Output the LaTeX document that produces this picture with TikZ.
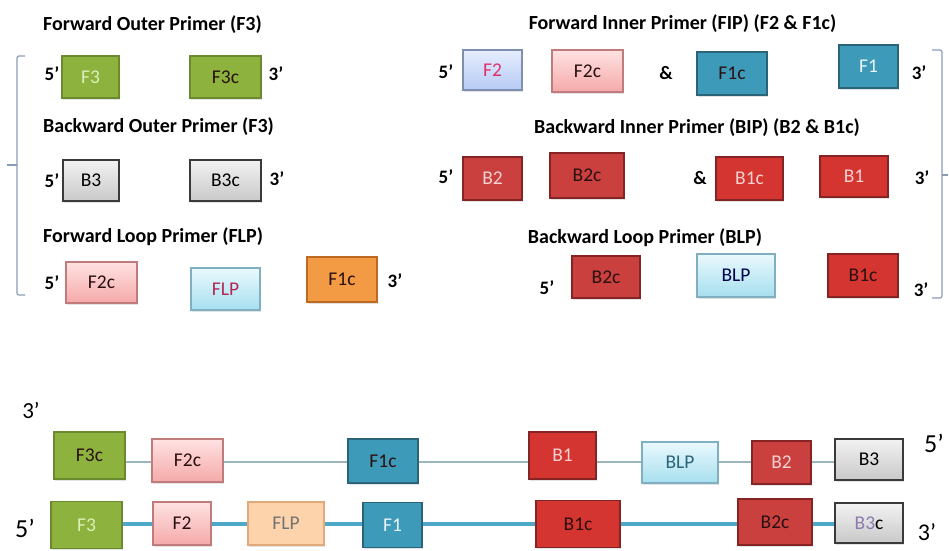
\documentclass[tikz,border=0pt]{standalone}
\usepackage{fontspec}
\setmainfont{Carlito}
\usetikzlibrary{shadows}
\definecolor{cgreen}{HTML}{8DB33E}
\definecolor{cgreenb}{HTML}{6B8A2F}
\definecolor{cgreent}{HTML}{DCEFB8}
\definecolor{cgrayt}{HTML}{F2F2F2}
\definecolor{cgrayb}{HTML}{C9C9C9}
\definecolor{cgrayd}{HTML}{3A3A3A}
\definecolor{cpinkt}{HTML}{FFE2E2}
\definecolor{cpinkb}{HTML}{F5A9A9}
\definecolor{cpinkd}{HTML}{C07C7C}
\definecolor{clavt}{HTML}{E6EEFF}
\definecolor{clavb}{HTML}{B6CAF4}
\definecolor{clavd}{HTML}{7F8FB0}
\definecolor{cmag}{HTML}{E0306A}
\definecolor{cteal}{HTML}{3D9AB8}
\definecolor{ctealb}{HTML}{2B6478}
\definecolor{cred}{HTML}{C9403E}
\definecolor{credb}{HTML}{852424}
\definecolor{cred2}{HTML}{D43530}
\definecolor{credt}{HTML}{F7D2D2}
\definecolor{cdark}{HTML}{2A1010}
\definecolor{ccyant}{HTML}{EAF9FD}
\definecolor{ccyanb}{HTML}{A6DFEF}
\definecolor{ccyand}{HTML}{7FAFC0}
\definecolor{corange}{HTML}{F39A45}
\definecolor{corangeb}{HTML}{BD6A22}
\definecolor{cpeach}{HTML}{FCD3AA}
\definecolor{cpeachb}{HTML}{E2AA7A}
\definecolor{cpurple}{HTML}{8C7BB0}
\definecolor{cbrk}{HTML}{8A9BB8}
\definecolor{cthin}{HTML}{9CB6BE}
\definecolor{cthick}{HTML}{4FA8C8}
\begin{document}
\begin{tikzpicture}[x=1pt,y=-1pt,
  box/.style={rectangle, draw, line width=1.3pt, inner sep=0pt,
    font=\fontsize{19.5}{19.5}\selectfont,
    drop shadow={shadow xshift=1pt,shadow yshift=-1.5pt,opacity=0.22}},
  sz/.style 2 args={minimum width=#1, minimum height=#2},
  greenbox/.style={box, fill=cgreen, draw=cgreenb, text=cdark},
  graybox/.style={box, top color=cgrayt, bottom color=cgrayb, draw=cgrayd, text=black},
  pinkbox/.style={box, top color=cpinkt, bottom color=cpinkb, draw=cpinkd, text=cdark},
  lavbox/.style={box, top color=clavt, bottom color=clavb, draw=clavd, text=cmag},
  cyanbox/.style={box, top color=ccyant, bottom color=ccyanb, draw=ccyand, text=black!70!blue},
  tealbox/.style={box, fill=cteal, draw=ctealb, text=cdark},
  redbox/.style={box, fill=cred, draw=credb, text=credt},
  redtwo/.style={box, fill=cred2, draw=credb, text=credt},
  orangebox/.style={box, fill=corange, draw=corangeb, text=cdark},
  peachbox/.style={box, fill=cpeach, draw=cpeachb, text=black!55},
  endlab/.style={font=\bfseries\fontsize{19}{19}\selectfont, inner sep=0pt},
  biglab/.style={font=\fontsize{26}{26}\selectfont, inner sep=0pt},
  title/.style={font=\bfseries\fontsize{20}{20}\selectfont, inner sep=0pt},
  brk/.style={draw=cbrk, line width=1.2pt, rounded corners=2pt},
  thinstrand/.style={draw=cthin, line width=1.5pt},
  thickstrand/.style={draw=cthick, line width=4pt}]
\useasboundingbox (0,0) rectangle (949,550);

% ---------- top-left ----------
\node[title, anchor=west] (t1) at (43,25) {Forward Outer Primer (F3)};
\node[greenbox, sz={57}{42}, text=cgreent] (F3a) at (90.5,77) {F3};
\node[greenbox, sz={71}{42}] (F3ca) at (225.5,77) {F3c};
\node[endlab] (l1) at (52,74) {5’};
\node[endlab] (r1) at (276,74) {3’};

\node[title, anchor=west] (t2) at (43,127) {Backward Outer Primer (F3)};
\node[graybox, sz={56}{41}] (B3a) at (91,180.5) {B3};
\node[graybox, sz={71}{41}] (B3ca) at (225.5,180.5) {B3c};
\node[endlab] (l2) at (52,181) {5’};
\node[endlab] (r2) at (277,179) {3’};

\node[title, anchor=west] (t3) at (43,237) {Forward Loop Primer (FLP)};
\node[pinkbox, sz={71}{41}] (F2ca) at (101.5,282.5) {F2c};
\node[cyanbox, sz={69}{42}, text=cmag!80!black] (FLPa) at (225.5,289) {FLP};
\node[orangebox, sz={70}{45}] (F1ca) at (342,279.5) {F1c};
\node[endlab] (l3) at (52,283) {5’};
\node[endlab] (r3) at (395,281) {3’};

% left bracket
\draw[brk] (25,56) -| (17,295) -- (25,295);
\draw[brk] (17,165) -- (7,165);

% ---------- top-right ----------
\node[title] (t4) at (682.5,24) {Forward Inner Primer (FIP) (F2 \& F1c)};
\node[lavbox, sz={59}{40}] (F2b) at (492.5,70) {F2};
\node[pinkbox, sz={71}{42}] (F2cb) at (587.5,71) {F2c};
\node[endlab] (amp1) at (666,73) {\&};
\node[tealbox, sz={70}{43}] (F1cb) at (732,73.5) {F1c};
\node[tealbox, sz={59}{43}, text=white!90!cteal] (F1b) at (868.5,66.5) {F1};
\node[endlab] (l4) at (446,72) {5’};
\node[endlab] (r4) at (919,73) {3’};

\node[title] (t5) at (697,128) {Backward Inner Primer (BIP) (B2 \& B1c)};
\node[redbox, sz={59}{43}] (B2b) at (492.5,178.5) {B2};
\node[redbox, sz={74}{45}, text=cdark] (B2cb) at (587,175.5) {B2c};
\node[endlab] (amp2) at (700,178) {\&};
\node[redtwo, sz={67}{43}] (B1cb) at (749.5,178.5) {B1c};
\node[redtwo, sz={68}{41}] (B1b) at (854,176.5) {B1};
\node[endlab] (l5) at (446,177) {5’};
\node[endlab] (r5) at (922,178) {3’};

\node[title] (t6) at (645,238) {Backward Loop Primer (BLP)};
\node[redbox, sz={68}{42}, text=cdark] (B2cc) at (606,277) {B2c};
\node[cyanbox, sz={78}{43}] (BLPc) at (736,275.5) {BLP};
\node[redtwo, sz={70}{43}, text=cdark] (B1cc) at (863,275.5) {B1c};
\node[endlab] (l6) at (547,288) {5’};
\node[endlab] (r6) at (921,290) {3’};

% right bracket
\draw[brk] (932,50) -| (942,298) -- (932,298);
\draw[brk] (942,175) -- (948,175);

% ---------- bottom double strand ----------
\coordinate (ty) at (0,462);
\coordinate (by) at (0,524);

\node[greenbox, sz={71}{47}] (F3cd) at (89.5,455.5) {F3c};
\node[pinkbox, sz={71}{43}] (F2cd) at (187.5,460.5) {F2c};
\node[tealbox, sz={70}{44}] (F1cd) at (383,461) {F1c};
\node[redtwo, sz={67}{47}] (B1d) at (562.5,455.5) {B1};
\node[cyanbox, sz={76}{41}, text=ctealb] (BLPd) at (680,462.5) {BLP};
\node[redbox, sz={59}{43}] (B2d) at (781.5,462.5) {B2};
\node[graybox, sz={68}{41}] (B3d) at (869,459.5) {B3};

\node[greenbox, sz={71}{47}, text=cgreent] (F3e) at (86.5,525) {F3};
\node[pinkbox, sz={58}{43}] (F2e) at (182,523.5) {F2};
\node[peachbox, sz={76}{43}] (FLPe) at (286,523.5) {FLP};
\node[tealbox, sz={59}{45}, text=white!90!cteal] (F1e) at (392.5,525) {F1};
\node[redtwo, sz={84}{47}, text=cdark] (B1ce) at (578,524) {B1c};
\node[redbox, sz={74}{46}, text=cdark] (B2ce) at (775,522) {B2c};
\node[graybox, sz={68}{40}] (B3ce) at (869,523) {\textcolor{cpurple}{B3}c};

\foreach \a/\b in {F3cd/F2cd, F2cd/F1cd, F1cd/B1d, B1d/BLPd, BLPd/B2d, B2d/B3d}
  \draw[thinstrand] (\a.east |- ty) -- (\b.west |- ty);
\foreach \a/\b in {F3e/F2e, F2e/FLPe, FLPe/F1e, F1e/B1ce, B1ce/B2ce, B2ce/B3ce}
  \draw[thickstrand] (\a.east |- by) -- (\b.west |- by);

\node[biglab, font=\fontsize{23}{23}\selectfont] (l7) at (31,410) {3’};
\node[biglab] (l8) at (25,528) {5’};
\node[biglab] (r7) at (934,443) {5’};
\node[biglab, font=\fontsize{24}{24}\selectfont] (r8) at (927,532) {3’};
\end{tikzpicture}
\end{document}
